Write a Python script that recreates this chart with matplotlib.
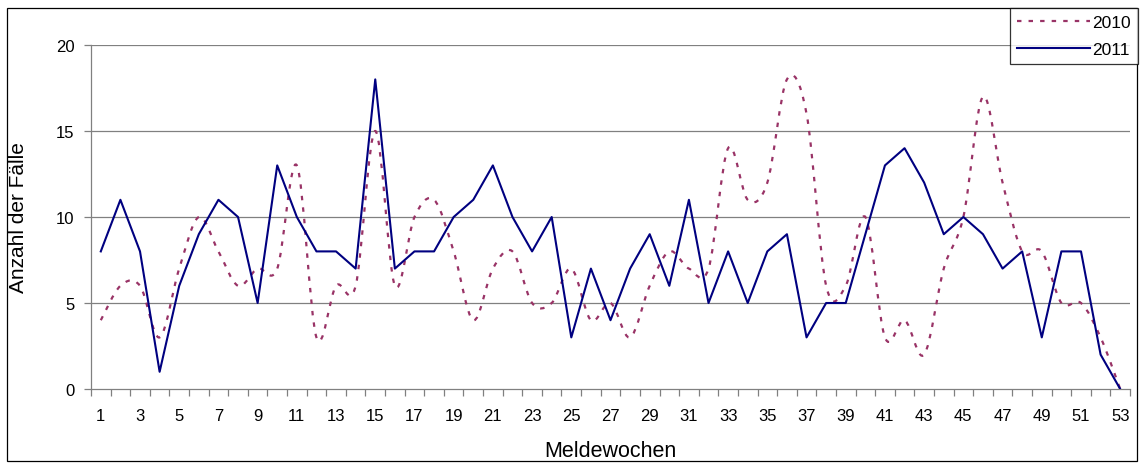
import matplotlib
matplotlib.use("Agg")
import matplotlib.pyplot as plt
import numpy as np
from matplotlib.path import Path
from matplotlib.patches import PathPatch, Rectangle
from matplotlib.lines import Line2D

plt.rcParams['font.family'] = ['Liberation Sans', 'DejaVu Sans']

weeks = list(range(1, 54))
cases_2010 = [4, 6, 6, 3, 7, 10, 8, 6, 7, 7,
              13, 3, 6, 6, 15, 6, 10, 11, 8, 4,
              7, 8, 5, 5, 7, 4, 5, 3, 6, 8,
              7, 7, 14, 11, 12, 18, 16, 6, 6, 10,
              3, 4, 2, 7, 10, 17, 12, 8, 8, 5,
              5, 3, 0]
cases_2011 = [8, 11, 8, 1, 6, 9, 11, 10, 5, 13,
              10, 8, 8, 7, 18, 7, 8, 8, 10, 11,
              13, 10, 8, 10, 3, 7, 4, 7, 9, 6,
              11, 5, 8, 5, 8, 9, 3, 5, 5, 9,
              13, 14, 12, 9, 10, 9, 7, 8, 3, 8,
              8, 2, 0]
series_labels = ["2010", "2011"]
x_tick_labels = [str(w) for w in weeks if w % 2 == 1]
y_ticks = [0, 5, 10, 15, 20]

c2010 = "#993366"
c2011 = "#000080"
grid_c = "#808080"

W, H = 1140, 464
fig = plt.figure(figsize=(W / 100, H / 100), dpi=100)
ax = fig.add_axes([91 / W, (H - 390) / H, (1130 - 91) / W, (390 - 46) / H])


def smooth_path(xs, ys):
    """Bezier path through the data points (Excel-style smoothed line)."""
    pts = np.column_stack([xs, ys]).astype(float)
    n = len(pts)
    verts = [pts[0]]
    codes = [Path.MOVETO]
    for i in range(n - 1):
        p0 = pts[i - 1] if i > 0 else pts[i]
        p1 = pts[i]
        p2 = pts[i + 1]
        p3 = pts[i + 2] if i + 2 < n else pts[i + 1]
        c1 = p1 + (p2 - p0) / 6.0
        c2 = p2 - (p3 - p1) / 6.0
        verts += [c1, c2, p2]
        codes += [Path.CURVE4] * 3
    return Path(verts, codes)


dash = (0, (2.0, 3.2))
p10 = PathPatch(smooth_path(weeks, cases_2010), facecolor="none",
                edgecolor=c2010, lw=1.6, linestyle=dash, zorder=3)
ax.add_patch(p10)
ax.plot(weeks, cases_2011, color=c2011, lw=1.5, zorder=4)

ax.set_xlim(0.5, 53.5)
ax.set_ylim(0, 20)

for y in y_ticks[1:]:
    ax.axhline(y, color=grid_c, lw=0.9, zorder=1)

ax.set_yticks(y_ticks)
ax.set_yticklabels([str(v) for v in y_ticks])
ax.tick_params(axis="y", direction="out", length=5, width=0.9, color=grid_c,
               labelsize=12, pad=7)

ax.set_xticks([w for w in weeks if w % 2 == 1])
ax.set_xticklabels(x_tick_labels)
ax.set_xticks([w - 0.5 for w in weeks] + [53.5], minor=True)
ax.tick_params(axis="x", which="major", length=0, labelsize=12, pad=14)
ax.tick_params(axis="x", which="minor", direction="out", length=5, width=0.9,
               color=grid_c)

for s in ["top", "right"]:
    ax.spines[s].set_visible(False)
for s in ["left", "bottom"]:
    ax.spines[s].set_color(grid_c)
    ax.spines[s].set_linewidth(0.9)

ax.set_ylabel("Anzahl der Fälle", fontsize=15)
ax.yaxis.set_label_coords(-(91 - 28) / (1130 - 91), 0.5)
ax.set_xlabel("Meldewochen", fontsize=15.5)
ax.xaxis.set_label_coords(0.5, -(441 - 390) / (390 - 46))

# chart border
fig.patches.append(Rectangle((7 / W, (H - 462) / H), (1137 - 7) / W, (462 - 9) / H,
                             transform=fig.transFigure, fill=False,
                             edgecolor="black", lw=0.9))

handles = [Line2D([], [], color=c2010, lw=1.6, linestyle=dash),
           Line2D([], [], color=c2011, lw=1.5)]
leg = fig.legend(handles, series_labels, loc="upper right",
                 bbox_to_anchor=(1138 / W, (H - 9) / H), frameon=True,
                 fancybox=False, edgecolor="black", fontsize=12.5,
                 handlelength=4.2, handletextpad=0.15, borderpad=0.4,
                 labelspacing=0.7, borderaxespad=0)
leg.get_frame().set_linewidth(0.9)

fig.savefig("out.png", dpi=100)
